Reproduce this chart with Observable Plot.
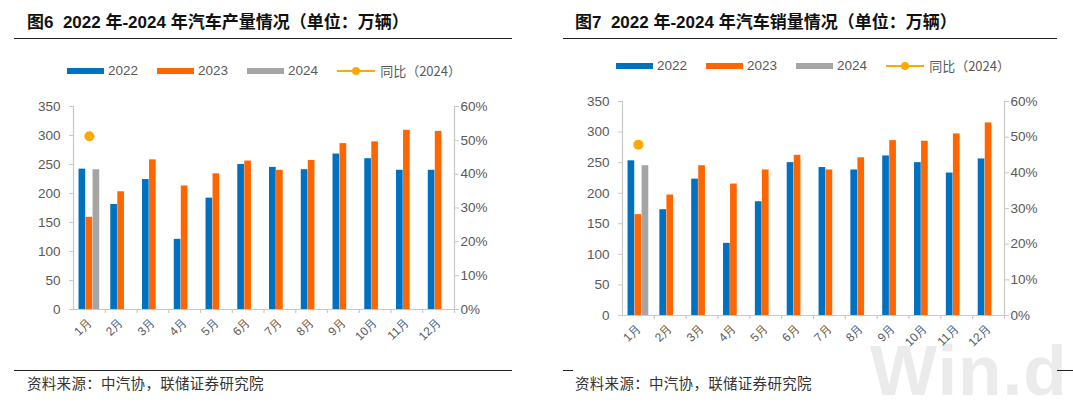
<!DOCTYPE html>
<html>
<head>
<meta charset="utf-8">
<script src="https://cdn.jsdelivr.net/npm/d3@7"></script>
<script src="https://cdn.jsdelivr.net/npm/@observablehq/plot@0.6"></script>
<style>
  html, body { margin: 0; padding: 0; background: #fff; }
  #root { position: relative; width: 1073px; height: 403px; overflow: hidden; font-family: "Liberation Sans", Arial, "Noto Sans CJK SC", sans-serif; }
  .title { position: absolute; font-family: "Liberation Sans", "Noto Sans CJK SC", sans-serif; font-weight: bold; font-size: 17px; color: #111; white-space: pre; line-height: 1; }
  .rule { position: absolute; height: 0; border-top: 1.3px solid #222; }
  .source { position: absolute; font-family: "Noto Sans CJK SC", sans-serif; font-size: 14.5px; color: #333; white-space: nowrap; line-height: 1; letter-spacing: 0.3px; }
  .legend { position: absolute; display: flex; align-items: center; font-size: 13.5px; color: #595959; white-space: nowrap; line-height: 1; }
  .legend .sw { width: 37px; height: 6px; margin-right: 4px; }
  .legend .item { display: flex; align-items: center; margin-right: 19px; }
  .legend .ln { position: relative; width: 38px; height: 2px; background: #FFA800; margin-right: 5px; }
  .legend .ln::after { content: ""; position: absolute; left: 15px; top: -3px; width: 8px; height: 8px; border-radius: 50%; background: #FFA800; }
  .legend .cjk { font-family: "Noto Sans CJK SC", sans-serif; font-size: 13px; }
  .plotbox { position: absolute; }
  .wm { position: absolute; font-family: "Liberation Sans", Arial, sans-serif; font-weight: bold; font-size: 71px; color: #ebebeb; white-space: nowrap; line-height: 1; letter-spacing: 1px; }
</style>
</head>
<body>
<div id="root"></div>
<script>
// ---------------- data ----------------
const months = ["1月","2月","3月","4月","5月","6月","7月","8月","9月","10月","11月","12月"];
const prod2022 = [242, 181, 224, 121, 192, 250, 245, 241, 268, 260, 240, 240];
const prod2023 = [159, 203, 258, 213, 234, 256, 240, 257, 286, 289, 309, 307];
const prod2024 = [241];
const prodYoy2024 = [51.2];
const sales2022 = [253, 173, 223, 118, 186, 250, 242, 238, 261, 250, 233, 256];
const sales2023 = [165, 197, 245, 215, 238, 262, 238, 258, 286, 285, 297, 315];
const sales2024 = [245];
const salesYoy2024 = [47.9];
const leftTicks = [0, 50, 100, 150, 200, 250, 300, 350];
const pctTicks = [0, 10, 20, 30, 40, 50, 60];
const seriesNames = ["2022", "2023", "2024"];
const yoyName = "同比（2024）";
const titles = ["图6  2022 年-2024 年汽车产量情况（单位：万辆）", "图7  2022 年-2024 年汽车销量情况（单位：万辆）"];
const sourceText = "资料来源：中汽协，联储证券研究院";

const colors = { "2022": "#0070C0", "2023": "#FF6600", "2024": "#A5A5A5", yoy: "#FFA800" };
const YMAX = 350, PMAX = 60;

const root = document.getElementById("root");
function addDiv(cls, text, style) {
  const d = document.createElement("div");
  d.className = cls;
  if (text != null) d.textContent = text;
  Object.assign(d.style, style);
  root.appendChild(d);
  return d;
}

// watermark (behind)
addDiv("wm", "Win.d", { left: "870px", top: "335px" });

function legend(left, top) {
  const lg = addDiv("legend", null, { left: left + "px", top: top + "px" });
  seriesNames.forEach(n => {
    const it = document.createElement("div"); it.className = "item";
    const sw = document.createElement("div"); sw.className = "sw"; sw.style.background = colors[n];
    const tx = document.createElement("span"); tx.textContent = n;
    it.appendChild(sw); it.appendChild(tx); lg.appendChild(it);
  });
  const it = document.createElement("div"); it.className = "item";
  const ln = document.createElement("div"); ln.className = "ln";
  const tx = document.createElement("span"); tx.className = "cjk"; tx.textContent = yoyName;
  it.appendChild(ln); it.appendChild(tx); lg.appendChild(it);
}

function chart(opts) {
  const { v2022, v2023, v2024, yoy, left, top, width, height, mt, mb, ml, mr } = opts;
  const rows = (vals, year) => vals.map((v, i) => ({ month: months[i], value: v, year }));
  const step = (width - ml - mr) / months.length;
  const bw = step * 0.21, gap = 0.35;
  // inset for each series bar inside its month band
  const slot = k => {
    const c = step / 2 + (k - 1) * (bw + gap);
    return { insetLeft: c - bw / 2, insetRight: step - (c + bw / 2) };
  };
  const axisColor = "#c8c8c8";
  const plot = Plot.plot({
    width, height,
    marginTop: mt, marginBottom: mb, marginLeft: ml, marginRight: mr,
    style: { fontFamily: "Liberation Sans, Arial, sans-serif", fontSize: "13px", color: "#595959", background: "transparent", overflow: "visible" },
    x: { type: "band", domain: months, padding: 0, round: false, label: null, axis: null },
    y: { domain: [0, YMAX], label: null, axis: null },
    marks: [
      Plot.barY(rows(v2022, "2022"), { x: "month", y: "value", fill: colors["2022"], ...slot(0) }),
      Plot.barY(rows(v2023, "2023"), { x: "month", y: "value", fill: colors["2023"], ...slot(1) }),
      Plot.barY(rows(v2024, "2024"), { x: "month", y: "value", fill: colors["2024"], ...slot(2) }),
      Plot.frame({ anchor: "left", stroke: axisColor, strokeWidth: 1.2 }),
      Plot.frame({ anchor: "right", stroke: axisColor, strokeWidth: 1.2 }),
      Plot.frame({ anchor: "bottom", stroke: axisColor, strokeWidth: 1.2 }),
      Plot.ruleX(months, { x: d => d, dx: step / 2, y1: 0, y2: 0, insetBottom: -4, stroke: axisColor, strokeWidth: 1.2 }),
      Plot.axisY(leftTicks, { anchor: "left", tickSize: 4, tickPadding: 9, stroke: axisColor, fill: "#595959", fontSize: 13.5, label: null }),
      Plot.axisY(pctTicks.map(p => p * YMAX / PMAX), { anchor: "right", tickSize: 4, tickPadding: 2, stroke: axisColor, fill: "#595959", fontSize: 13.5, label: null, tickFormat: d => Math.round(d / YMAX * PMAX) + "%" }),
      Plot.axisX(months, { anchor: "bottom", tickSize: 0, tickPadding: 11, tickRotate: -45, fill: "#595959", fontSize: 12, label: null }),
      Plot.dot(yoy.map((p, i) => ({ month: months[i], pct: p })), { x: "month", y: d => d.pct * YMAX / PMAX, r: 5, fill: colors.yoy, stroke: "none" })
    ]
  });
  const box = addDiv("plotbox", null, { left: left + "px", top: top + "px" });
  box.appendChild(plot);
}

// ---------- left panel ----------
addDiv("title", titles[0], { left: "27px", top: "14px" });
addDiv("rule", null, { left: "14px", top: "38px", width: "498px" });
legend(67, 64);
chart({ v2022: prod2022, v2023: prod2023, v2024: prod2024, yoy: prodYoy2024,
  left: 0, top: 96, width: 530, height: 260, mt: 10, mb: 47, ml: 73, mr: 76 });
addDiv("rule", null, { left: "14px", top: "370px", width: "498px" });
addDiv("source", sourceText, { left: "27px", top: "376px" });

// ---------- right panel ----------
addDiv("title", titles[1], { left: "575px", top: "14px" });
addDiv("rule", null, { left: "563px", top: "38px", width: "494px" });
legend(616, 59);
chart({ v2022: sales2022, v2023: sales2023, v2024: sales2024, yoy: salesYoy2024,
  left: 540, top: 91, width: 533, height: 265, mt: 10, mb: 41, ml: 82, mr: 69 });
addDiv("rule", null, { left: "563px", top: "370px", width: "10px" });
addDiv("rule", null, { left: "1057px", top: "370px", width: "16px" });
addDiv("source", sourceText, { left: "575px", top: "376px" });
</script>
</body>
</html>
